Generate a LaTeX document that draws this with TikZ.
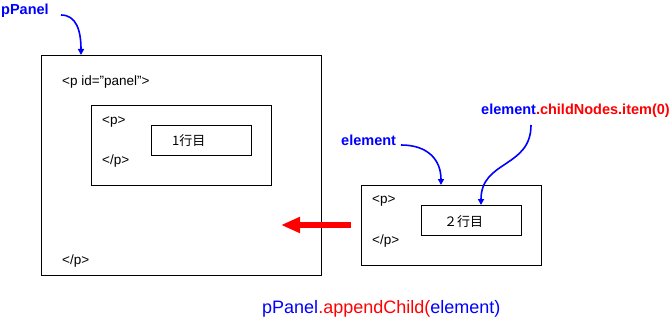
\documentclass[tikz,border=0pt]{standalone}
\usepackage{fontspec}
\setmainfont{Liberation Sans}
\newfontfamily\jpfont{Noto Sans CJK JP}
\usetikzlibrary{arrows.meta}
\definecolor{pblue}{RGB}{0,0,255}
\definecolor{pred}{RGB}{255,0,0}
\begin{document}
\begin{tikzpicture}[x=1pt,y=-1pt,
  boxst/.style={draw=black,line width=1.1pt,fill=white,inner sep=0pt},
  tagst/.style={anchor=base west,inner sep=0pt,font=\fontsize{13.5}{15}\selectfont},
  lblst/.style={anchor=base west,inner sep=0pt,text=pblue,font=\fontsize{14.5}{16}\selectfont\bfseries},
  ptr/.style={draw=pblue,line width=1.6pt,-{Triangle[length=6pt,width=6pt]}}]
\useasboundingbox (0,0) rectangle (671,321);
% outer panel
\node[boxst,minimum width=280pt,minimum height=220pt,anchor=north west] (outer) at (41,55) {};
\node[tagst] (t1) at (62,85) {<p id=\symbol{34}panel\symbol{34}>};
\node[tagst] (t2) at (62,264) {</p>};
% inner p
\node[boxst,minimum width=180pt,minimum height=80pt,anchor=north west] (inner) at (91,105) {};
\node[tagst] (t3) at (102,124) {<p>};
\node[tagst] (t4) at (102,164) {</p>};
\node[boxst,minimum width=100pt,minimum height=30pt,anchor=north west] (line1) at (151,125) {};
\node[tagst,font=\fontsize{13}{15}\selectfont\jpfont] (l1) at (172,145) {1行目};
% element
\node[boxst,minimum width=180pt,minimum height=80pt,anchor=north west] (elem) at (361,185) {};
\node[tagst] (t5) at (372,203) {<p>};
\node[tagst] (t6) at (372,244) {</p>};
\node[boxst,minimum width=100pt,minimum height=30pt,anchor=north west] (line2) at (421,205) {};
\node[tagst,font=\fontsize{13}{15}\selectfont\jpfont] (l2) at (444,226) {２行目};
% labels
\node[lblst] (lp) at (1,15) {pPanel};
\node[lblst] (le) at (341,145) {element};
\node[lblst] (lc) at (481,114) {element\textcolor{pred}{.childNodes.item(0)}};
\node[anchor=base west,inner sep=0pt,text=pblue,font=\fontsize{18}{20}\selectfont] (bot) at (262,313) {pPanel\textcolor{pred}{.appendChild(}element)};
% pointer coordinates
\coordinate (ps) at (61,15);
\coordinate (pe) at (81,55);
\coordinate (es) at (401,145);
\coordinate (ee) at (441,185);
\coordinate (cs) at (531,125);
\coordinate (ce) at (481,205);
\draw[ptr] (ps) .. controls (76,15) and (81,30) .. (pe);
\draw[ptr] (es) .. controls (428,145) and (441,160) .. (ee);
\draw[ptr] (cs) .. controls (531,168) and (481,160) .. (ce);
% red arrow
\coordinate (rs) at (351,225);
\coordinate (re) at (281,225);
\draw[draw=pred,line width=6pt,-{Triangle[length=19pt,width=15pt]}] (rs) -- (re);
\end{tikzpicture}
\end{document}
